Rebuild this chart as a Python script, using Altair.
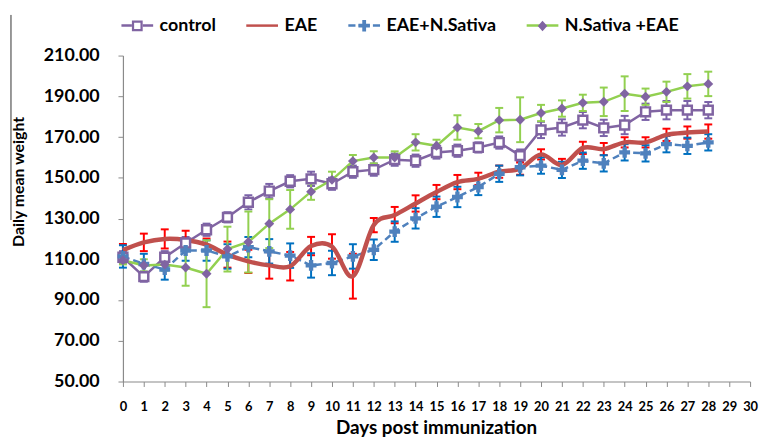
import altair as alt
import pandas as pd

# ---------------- data ----------------
days = list(range(29))
series_names = ["control", "EAE", "EAE+N.Sativa", "N.Sativa +EAE"]

control = [111.0, 101.5, 111.0, 118.0, 124.5, 130.6, 138.0, 143.5, 148.3, 149.5,
           147.1, 153.0, 154.0, 158.9, 158.4, 162.4, 163.3, 164.9, 167.3, 160.9,
           173.5, 174.7, 178.3, 174.5, 175.9, 182.4, 183.2, 183.2, 183.2]
control_err = [3.0, 2.5, 3.0, 3.0, 3.0, 2.5, 3.5, 3.5, 3.0, 3.5,
               3.0, 3.0, 3.0, 3.0, 3.0, 3.0, 3.0, 2.5, 3.0, 3.0,
               4.0, 4.0, 4.0, 4.0, 4.5, 4.0, 4.5, 4.5, 4.0]

eae = [114.5, 118.3, 120.0, 119.5, 117.2, 112.3, 109.0, 107.0, 106.6, 116.5,
       116.3, 101.7, 126.8, 131.7, 137.4, 143.0, 147.9, 149.5, 153.0, 154.5,
       161.5, 156.3, 164.7, 164.1, 167.4, 167.4, 171.1, 172.2, 172.7]
eae_err = [3.0, 4.3, 4.7, 4.5, 3.0, 6.4, 5.7, 6.5, 7.0, 4.5,
           6.0, 11.0, 3.5, 4.0, 4.0, 3.5, 3.5, 3.0, 3.0, 3.0,
           2.5, 3.0, 3.0, 3.0, 2.5, 2.5, 3.0, 3.0, 3.5]

ens = [111.4, 107.7, 105.0, 114.3, 114.3, 111.4, 116.0, 113.9, 111.8, 107.0,
       108.2, 111.4, 114.7, 123.6, 130.1, 135.8, 140.6, 145.5, 152.0, 155.2,
       156.0, 153.9, 158.4, 157.1, 162.5, 162.0, 166.5, 165.7, 167.4]
ens_err = [5.5, 5.0, 5.0, 5.0, 5.0, 6.0, 5.0, 6.0, 6.0, 6.0,
           6.0, 6.0, 5.0, 5.0, 5.0, 5.0, 5.0, 4.0, 4.0, 4.0,
           4.0, 4.0, 4.0, 4.0, 4.0, 4.0, 4.0, 4.0, 4.0]

nse = [109.5, 107.0, 107.4, 106.0, 102.9, 115.0, 118.5, 127.5, 134.5, 143.2,
       149.0, 158.2, 160.0, 160.0, 167.4, 165.7, 174.7, 172.9, 178.3, 178.5,
       181.8, 184.0, 186.8, 187.3, 191.3, 189.8, 192.2, 194.9, 196.1]
nse_err = [2.0, 3.0, 3.0, 9.0, 16.4, 11.0, 15.0, 12.0, 9.5, 4.0,
           4.0, 3.0, 3.0, 3.0, 4.0, 3.0, 6.0, 3.5, 6.0, 11.0,
           4.0, 4.0, 4.0, 7.0, 8.5, 4.0, 5.0, 6.0, 6.0]

x_ticks = list(range(31))
y_ticks = [50, 70, 90, 110, 130, 150, 170, 190, 210]

# ---------------- styles ----------------
line_colors = ["#8064A2", "#C0504D", "#4F81BD", "#92D050"]
err_colors = ["#7A62A8", "#FF0000", "#0070C0", "#92D050"]
marker_colors = ["#8064A2", "transparent", "#4F81BD", "#8064A2"]

values_by_series = [control, eae, ens, nse]
errs_by_series = [control_err, eae_err, ens_err, nse_err]

rows = []
for name, vals, errs in zip(series_names, values_by_series, errs_by_series):
    for d, v, e in zip(days, vals, errs):
        rows.append({"day": d, "series": name, "value": v, "lo": v - e, "hi": v + e})
df = pd.DataFrame(rows)

FONT = "Lato"
GRAY = "#8A8A8A"

xscale = alt.Scale(domain=[0, 30], nice=False, zero=False)
yscale = alt.Scale(domain=[50, 210], nice=False, zero=False)

xaxis = alt.Axis(values=x_ticks, format="d", title="Days post immunization", grid=False,
                 domainColor=GRAY, tickColor=GRAY, tickSize=5, domainWidth=1.2,
                 labelFont=FONT, labelFontSize=13, labelFontWeight="bold", labelColor="black",
                 labelPadding=14, labelOverlap=False, labelFlush=False,
                 titleFont=FONT, titleFontSize=19, titleFontWeight="bold", titleColor="black",
                 titleX=316, titleY=52, titleBaseline="alphabetic", titleAlign="center")
yaxis = alt.Axis(values=y_ticks, format=".2f", title="Daily mean weight", grid=False,
                 domainColor=GRAY, tickColor=GRAY, tickSize=5, domainWidth=1.2,
                 labelFont=FONT, labelFontSize=18, labelFontWeight="bold", labelColor="black",
                 labelPadding=19,
                 titleFont=FONT, titleFontSize=16, titleFontWeight="bold", titleColor="black",
                 titleX=-105, titleY=127, titleAngle=270, titleAlign="center",
                 titleBaseline="middle")

X = alt.X("day:Q", scale=xscale, axis=xaxis)

def Yf(field):
    return alt.Y(field + ":Q", scale=yscale, axis=yaxis)

base = alt.Chart(df)
layers = []

# error bars
for name, ec in zip(series_names, err_colors):
    b = base.transform_filter(alt.datum.series == name)
    layers.append(b.mark_rule(color=ec, strokeWidth=2).encode(x=X, y=Yf("lo"), y2="hi:Q"))
    layers.append(b.mark_tick(orient="horizontal", size=8, thickness=2, color=ec, opacity=1)
                  .encode(x=X, y=Yf("lo")))
    layers.append(b.mark_tick(orient="horizontal", size=8, thickness=2, color=ec, opacity=1)
                  .encode(x=X, y=Yf("hi")))

# lines
layers.append(base.transform_filter(alt.datum.series == "control")
              .mark_line(color=line_colors[0], strokeWidth=2.5).encode(x=X, y=Yf("value")))
layers.append(base.transform_filter(alt.datum.series == "EAE+N.Sativa")
              .mark_line(color=line_colors[2], strokeWidth=2.5, strokeDash=[7, 4])
              .encode(x=X, y=Yf("value")))
layers.append(base.transform_filter(alt.datum.series == "N.Sativa +EAE")
              .mark_line(color=line_colors[3], strokeWidth=2.5).encode(x=X, y=Yf("value")))
layers.append(base.transform_filter(alt.datum.series == "EAE")
              .mark_line(color=line_colors[1], strokeWidth=4.5, interpolate="cardinal")
              .encode(x=X, y=Yf("value")))

# markers
layers.append(base.transform_filter(alt.datum.series == "control")
              .mark_point(shape="square", size=80, filled=True, fill="white",
                          stroke=marker_colors[0], strokeWidth=2.5, opacity=1)
              .encode(x=X, y=Yf("value")))
layers.append(base.transform_filter(alt.datum.series == "EAE+N.Sativa")
              .mark_point(shape="cross", size=120, filled=True, color=marker_colors[2], opacity=1)
              .encode(x=X, y=Yf("value")))
layers.append(base.transform_filter(alt.datum.series == "N.Sativa +EAE")
              .mark_point(shape="diamond", size=100, filled=True, color=marker_colors[3], opacity=1)
              .encode(x=X, y=Yf("value")))

# legend (two overlaid legends: line parts and marker parts)
legend_line_paths = ["M-1,0H-0.34M0.34,0H1",
                     "M-1,0H1",
                     "M-1,0H-0.55M-0.35,0H0.35M0.55,0H1",
                     "M-1,0H1"]
legend_marker_paths = ["M-1,0M1,0M-0.34,-0.34H0.34V0.34H-0.34ZM-0.2,-0.2V0.2H0.2V-0.2Z",
                       "M-1,0M1,0",
                       "M-1,0M1,0M-0.12,-0.36H0.12V-0.12H0.36V0.12H0.12V0.36H-0.12V0.12H-0.36V-0.12H-0.12Z",
                       "M-1,0M1,0M0,-0.33L0.3,0L0,0.33L-0.3,0Z"]

leg_common = dict(orient="none", legendX=-3, legendY=-48, direction="horizontal",
                  symbolSize=1024, symbolStrokeWidth=2.5,
                  labelFont=FONT, labelFontSize=18, labelFontWeight="bold",
                  labelColor="black", labelOffset=5, columnPadding=25, padding=0)

legA = alt.Legend(title=None, **leg_common)
legB = alt.Legend(title=None, labelOpacity=0, symbolStrokeColor="transparent", **leg_common)

layers.append(base.transform_filter("false")
              .mark_point(filled=False, opacity=1)
              .encode(color=alt.Color("series:N", scale=alt.Scale(domain=series_names, range=line_colors), legend=legA),
                      shape=alt.Shape("series:N", scale=alt.Scale(domain=series_names, range=legend_line_paths), legend=legA)))
layers.append(base.transform_filter("false")
              .mark_point(filled=True, opacity=1)
              .encode(color=alt.Color("series:N", scale=alt.Scale(domain=series_names, range=marker_colors), legend=legB),
                      shape=alt.Shape("series:N", scale=alt.Scale(domain=series_names, range=legend_marker_paths), legend=legB)))

# thin vertical line beside the y title, as in the reference
layers.append(alt.Chart(pd.DataFrame({"k": [0]})).mark_rule(color="#333333", strokeWidth=1)
              .encode(x=alt.value(-113), y=alt.value(-41), y2=alt.value(166)))

chart = (alt.layer(*layers)
         .resolve_scale(color="independent", shape="independent")
         .properties(width=633, height=329,
                     autosize=alt.AutoSizeParams(type="none"),
                     padding={"left": 116, "top": 46, "right": 9, "bottom": 57})
         .configure_view(stroke=None))

chart.save("out.html", embed_options={"renderer": "svg", "actions": False})
